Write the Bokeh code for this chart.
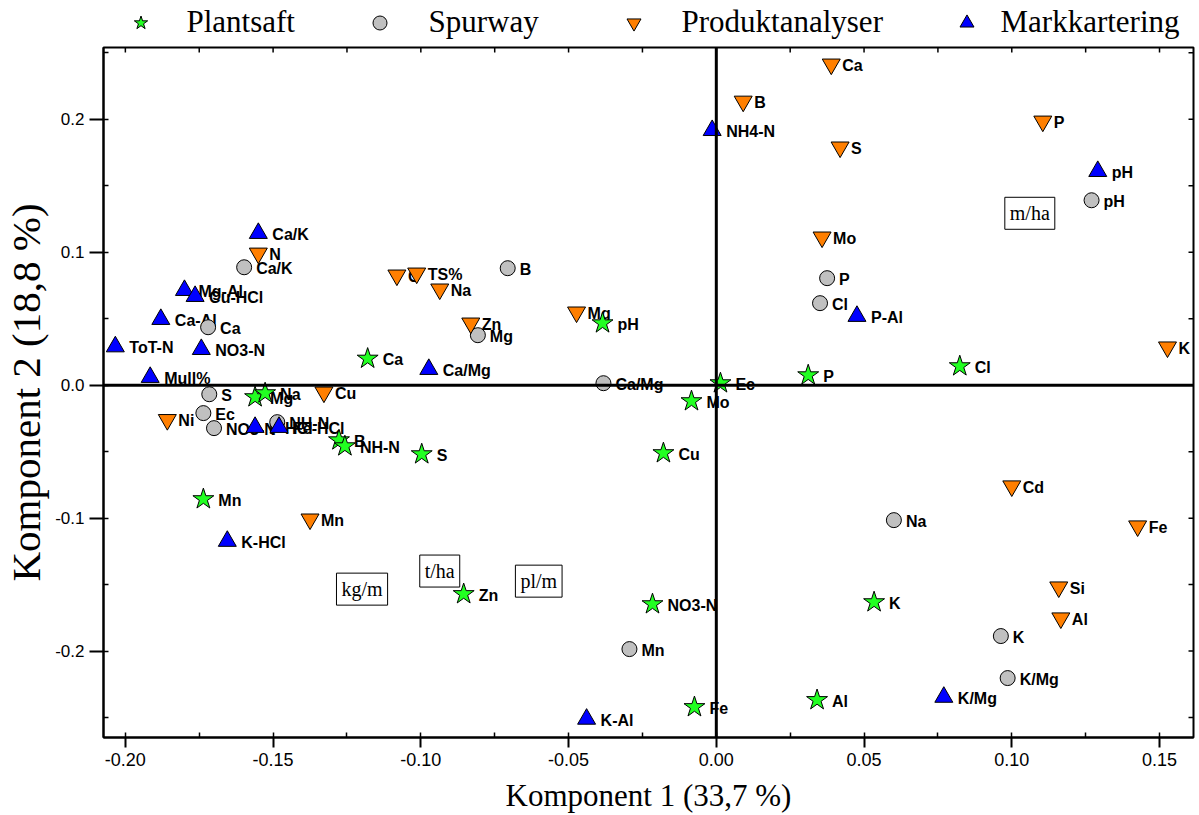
import numpy as np
from bokeh.plotting import figure
from bokeh.layouts import column
from bokeh.models import (Range1d, Span, Label, Legend, LegendItem,
                          FixedTicker, PrintfTickFormatter, ColumnDataSource)
from bokeh.core.properties import value
from bokeh.embed import file_html
from bokeh.resources import INLINE

# --- Plantsaft (plant sap) loadings ---
plant_names = ["Ca", "pH", "Mg", "Na", "Ec", "Mo", "P", "Cl", "B", "NH-N", "S", "Cu",
               "Mn", "Zn", "NO3-N", "K", "Fe", "Al"]
plant_x = [-0.118, -0.0385, -0.1561, -0.1527, 0.0014, -0.0084, 0.0311, 0.0824, -0.1277,
           -0.1257, -0.0997, -0.0179, -0.1736, -0.0855, -0.0216, 0.0534, -0.0074, 0.0341]
plant_y = [0.020, 0.0466, -0.009, -0.006, 0.0015, -0.012, 0.0075, 0.0143, -0.0414,
           -0.0459, -0.0519, -0.0511, -0.0857, -0.1571, -0.1647, -0.1632, -0.2421, -0.2368]

# --- Spurway loadings ---
spur_names = ["Ca/K", "Ca", "B", "Mg", "Ca/Mg", "S", "Ec", "NO3-N", "NH-N", "P", "Cl",
              "pH", "Na", "K", "K/Mg", "Mn"]
spur_x = [-0.1598, -0.172, -0.0706, -0.0807, -0.0382, -0.1716, -0.1736, -0.170, -0.1486,
          0.0375, 0.0351, 0.1270, 0.0601, 0.0963, 0.0986, -0.0294]
spur_y = [0.0887, 0.0436, 0.088, 0.0376, 0.0015, -0.0068, -0.021, -0.0323, -0.0278,
          0.0805, 0.0617, 0.1391, -0.1015, -0.1887, -0.2203, -0.1985]

# --- Produktanalyser loadings ---
prod_names = ["Ca", "B", "S", "P", "Mo", "N", "C", "TS%", "Na", "Zn", "Mg", "Cu", "Ni",
              "Mn", "Cd", "Fe", "Si", "Al", "K"]
prod_x = [0.0389, 0.0091, 0.0419, 0.1105, 0.0358, -0.155, -0.1081, -0.1014, -0.0936,
          -0.0831, -0.0473, -0.1328, -0.1858, -0.1375, 0.100, 0.1426, 0.1159, 0.1166, 0.1527]
prod_y = [0.2414, 0.2135, 0.179, 0.1985, 0.1113, 0.0992, 0.0827, 0.0842, 0.0722,
          0.0466, 0.0549, -0.0053, -0.026, -0.1008, -0.0759, -0.106, -0.1519, -0.1752, 0.0286]

# --- Markkartering (soil mapping) loadings ---
mark_names = ["Ca/K", "Mg-Al", "Cu-HCl", "Ca-Al", "ToT-N", "NO3-N", "Mull%", "Ca/Mg",
              "NH4-N", "pH", "P-Al", "K-HCl", "K-Al", "K/Mg", "P-HCl", "Fe-HCl"]
mark_x = [-0.155, -0.180, -0.1764, -0.188, -0.2034, -0.1743, -0.1916, -0.0973,
          -0.0014, 0.1291, 0.0476, -0.1655, -0.0439, 0.077, -0.1561, -0.148]
mark_y = [0.1143, 0.0714, 0.0669, 0.0496, 0.029, 0.027, 0.006, 0.012,
          0.1917, 0.1609, 0.0519, -0.1173, -0.2511, -0.2346, -0.0316, -0.0316]

# --- unit boxes ---
unit_names = ["m/ha", "kg/m", "t/ha", "pl/m"]
unit_x = [0.1061, -0.1199, -0.0936, -0.0601]
unit_y = [0.1293, -0.1534, -0.1398, -0.1474]

x_ticks = [-0.20, -0.15, -0.10, -0.05, 0.00, 0.05, 0.10, 0.15]
y_ticks = [-0.2, -0.1, 0.0, 0.1, 0.2]

SERIF = "Liberation Serif"
SANS = "Liberation Sans"
NARROW = "'Liberation Sans Narrow', 'Liberation Sans', sans-serif"

W, H_LEG, H_MAIN = 1199, 40, 775
LEFT, RIGHT = 101, 6
X0, X1, Y0, Y1 = -0.2074, 0.1615, -0.265, 0.254

p = figure(width=W, height=H_MAIN, output_backend="svg", toolbar_location=None,
           x_range=Range1d(X0, X1), y_range=Range1d(Y0, Y1),
           min_border_left=LEFT, min_border_right=RIGHT, min_border_top=7,
           min_border_bottom=77,
           x_axis_label="Komponent 1 (33,7 %)", y_axis_label="Komponent 2 (18,8 %)")
p.grid.visible = False
p.outline_line_color = "black"
p.outline_line_width = 2
p.background_fill_color = "white"
p.border_fill_color = "white"

xa = p.xaxis[0]
xa.ticker = FixedTicker(ticks=x_ticks, minor_ticks=list(np.arange(-0.2, 0.1501, 0.025)))
xa.formatter = PrintfTickFormatter(format="%.2f")
xa.major_label_text_font = NARROW
xa.major_label_text_font_size = "18px"
xa.major_label_standoff = 5
xa.axis_label_text_font = SERIF
xa.axis_label_text_font_style = "normal"
xa.axis_label_text_font_size = "31px"
xa.axis_label_standoff = 9

ya = p.yaxis[0]
ya.ticker = FixedTicker(ticks=y_ticks, minor_ticks=list(np.arange(-0.25, 0.2501, 0.05)))
ya.formatter = PrintfTickFormatter(format="%.1f")
ya.major_label_text_font = SANS
ya.major_label_text_font_size = "17px"
ya.major_label_standoff = 5
ya.axis_label_text_font = SERIF
ya.axis_label_text_font_style = "normal"
ya.axis_label_text_font_size = "41px"
ya.axis_label_standoff = 3

for ax, tick_out in ((xa, 10), (ya, 14)):
    ax.axis_line_width = 2
    ax.major_tick_line_width = 2
    ax.major_tick_out = tick_out
    ax.major_tick_in = 0
    ax.minor_tick_in = 5
    ax.minor_tick_out = 0
    ax.minor_tick_line_width = 1.5
    ax.major_label_text_color = "black"
    ax.axis_label_text_color = "black"

# short inward ticks along the top and right edges of the frame
frame_w = W - LEFT - RIGHT
frame_h = H_MAIN - 7 - 77
dy = 5 * (Y1 - Y0) / frame_h
dx = 5 * (X1 - X0) / frame_w
top_t = np.arange(-0.2, 0.1501, 0.025)
right_t = np.arange(-0.25, 0.2501, 0.05)
p.segment(x0=top_t, x1=top_t, y0=[Y1] * len(top_t), y1=[Y1 - dy] * len(top_t),
          line_color="black", line_width=1.5)
p.segment(x0=[X1] * len(right_t), x1=[X1 - dx] * len(right_t), y0=right_t, y1=right_t,
          line_color="black", line_width=1.5)

# zero lines
p.add_layout(Span(location=0, dimension="height", line_color="black", line_width=3))
p.add_layout(Span(location=0, dimension="width", line_color="black", line_width=3))

series = [
    dict(names=plant_names, x=plant_x, y=plant_y, marker="star", size=22,
         color="#22FF22", off=15, label="Plantsaft"),
    dict(names=spur_names, x=spur_x, y=spur_y, marker="circle", size=15,
         color="#C0C0C0", off=12, label="Spurway"),
    dict(names=prod_names, x=prod_x, y=prod_y, marker="inverted_triangle", size=18,
         color="#FF7F00", off=11, label="Produktanalyser"),
    dict(names=mark_names, x=mark_x, y=mark_y, marker="triangle", size=18,
         color="#0000FF", off=14, label="Markkartering"),
]

sources = []
for s in series:
    src = ColumnDataSource(dict(x=s["x"], y=s["y"], name=s["names"]))
    sources.append(src)
    p.text(x="x", y="y", text="name", source=src, x_offset=s["off"], y_offset=1,
           text_baseline="middle", text_align="left", text_font=value(SANS),
           text_font_style="bold", text_font_size="16px", text_color="black")

for s, src in zip(series, sources):
    p.scatter(x="x", y="y", source=src, marker=s["marker"], size=s["size"],
              fill_color=s["color"], line_color="black", line_width=1)

for name, ux, uy in zip(unit_names, unit_x, unit_y):
    p.add_layout(Label(x=ux, y=uy, text=name, text_align="center", text_baseline="middle",
                       text_font=SERIF, text_font_size="20px", text_color="black",
                       border_line_color="black", border_line_width=1,
                       background_fill_color="white", padding=5))

# legend strip across the top; its frame is aligned with the main frame,
# and its ranges keep the series points out of view so only the keys show
lf = figure(width=W, height=H_LEG, output_backend="svg", toolbar_location=None,
            x_axis_type=None, y_axis_type=None,
            x_range=Range1d(10, 11), y_range=Range1d(10, 11),
            min_border=0, min_border_left=LEFT, min_border_right=RIGHT)
lf.grid.visible = False
lf.outline_line_color = None
lf.background_fill_color = "white"
lf.border_fill_color = "white"

KEY = 35
legend_glyph_x = [138, 377, 631, 964]
legend_standoff = [29, 32, 31, 17]
for s, src, gx, so in zip(series, sources, legend_glyph_x, legend_standoff):
    r = lf.scatter(x="x", y="y", source=src, marker=s["marker"], size=s["size"],
                   fill_color=s["color"], line_color="black", line_width=1)
    lf.add_layout(Legend(items=[LegendItem(label=s["label"], renderers=[r], index=0)],
                         location=(gx - KEY / 2 - LEFT, 0), orientation="horizontal",
                         glyph_width=KEY, glyph_height=KEY, label_standoff=so,
                         padding=0, margin=0, border_line_color=None,
                         background_fill_alpha=0, label_text_font=SERIF,
                         label_text_font_size="31px", label_text_color="black",
                         label_height=30))

open("out.html", "w").write(file_html(column(lf, p, spacing=0), INLINE))
